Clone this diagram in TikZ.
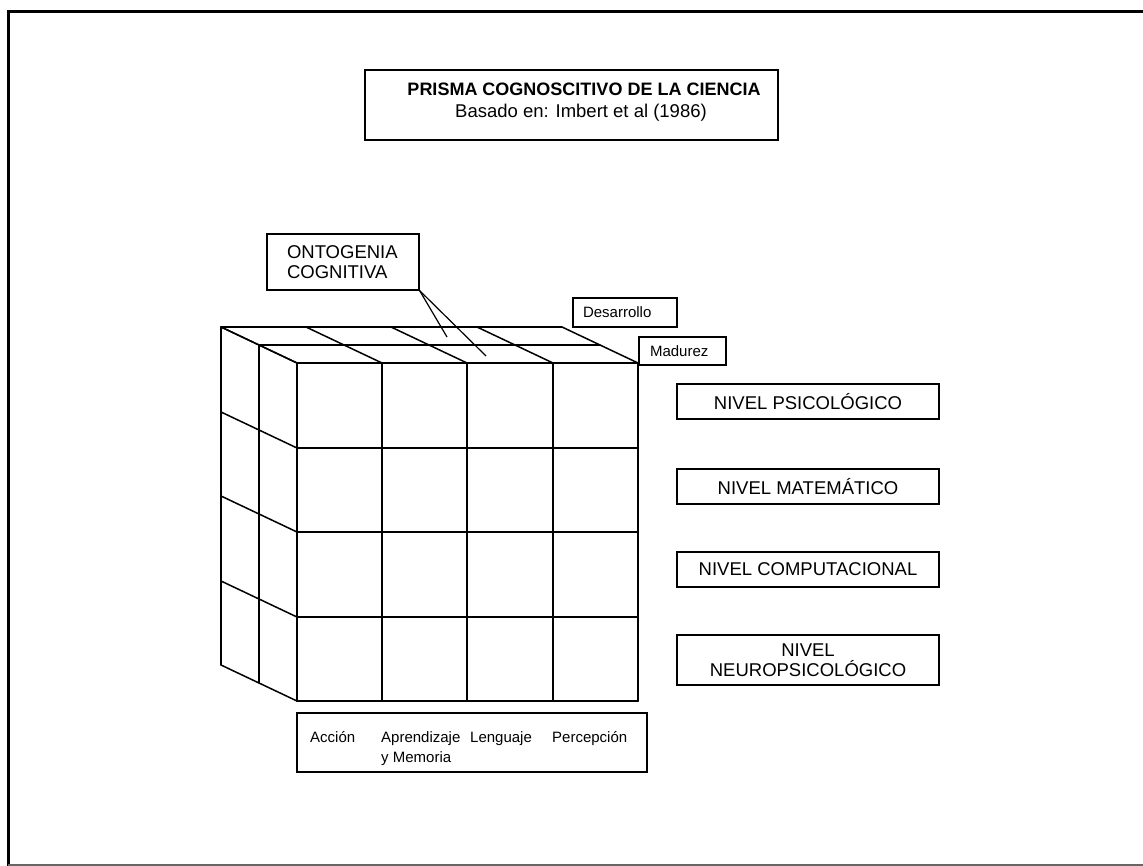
\documentclass[tikz,border=0pt]{standalone}
\usepackage{fontspec}
\setmainfont{Liberation Sans}
\newcommand{\bigtxt}{\fontsize{18.5}{20}\selectfont}
\newcommand{\smalltxt}{\fontsize{15}{20}\selectfont}
\begin{document}
\begin{tikzpicture}[x=1pt,y=-1pt,
  cubefront/.style={line width=2pt, line cap=round},
  cubeline/.style={line width=1.5pt, line cap=round},
  box/.style={draw, line width=1.2pt, inner sep=0pt},
  nivel/.style={box, minimum width=262pt, align=center, font=\bigtxt},
  smalllbl/.style={inner sep=0pt, font=\smalltxt},
  leader/.style={line width=1.2pt}]
\useasboundingbox (0,0) rectangle (1143,866);
% outer frame
\draw[line width=3pt] (8,866) -- (8,12) -- (1143,12);
\draw[line width=1.2pt, black!60] (8,865) -- (1143,865);

% title
\node[box, line width=2.4pt, minimum width=413pt, minimum height=70pt] (title) at (571.5,105) {};
\node[inner sep=0pt, anchor=base, font={\fontsize{18}{22}\selectfont\bfseries}]
  (titleA) at (584,96) {PRISMA COGNOSCITIVO DE LA CIENCIA};
\node[inner sep=0pt, anchor=base, font=\bigtxt]
  (titleB) at (581,118) {Basado en: Imbert et al (1986)};

% cube: front face
\foreach \x in {297,382,467,553,638}
  \draw[cubefront] (\x,363) -- (\x,701);
\foreach \y in {363,448,532,617,701}
  \draw[cubefront] (297,\y) -- (638,\y);
% top face
\foreach \k in {1,2}
  \draw[cubeline] (297-38*\k,363-18*\k) -- (638-38*\k,363-18*\k);
\foreach \x in {297,382,467,553,638}
  \draw[cubeline] (\x,363) -- (\x-76,327);
% left face
\foreach \k in {1,2}
  \draw[cubeline] (297-38*\k,363-18*\k) -- (297-38*\k,701-18*\k);
\foreach \y in {363,448,532,617,701}
  \draw[cubeline] (297,\y) -- (221,\y-36);

% ontogenia
\node[box, minimum width=152pt, minimum height=56pt, text width=112pt, align=left, font=\bigtxt]
  (ont) at (343,262) {ONTOGENIA\\COGNITIVA};
\coordinate (ontA) at (447,337);
\coordinate (ontB) at (486,356);
\draw[leader] (ont.south east) -- (ontA);
\draw[leader] (ont.south east) -- (ontB);

% desarrollo / madurez
\node[box, minimum width=104pt, minimum height=29pt, text width=84pt, align=left, font=\smalltxt]
  (des) at (625,312.5) {Desarrollo};
\node[box, minimum width=87pt, minimum height=28pt, text width=65pt, align=left, font=\smalltxt]
  (mad) at (682.5,351) {Madurez};

% niveles
\node[nivel, minimum height=35pt] (psi) at (808,401.5) {NIVEL PSICOLÓGICO};
\node[nivel, minimum height=35pt] (mat) at (808,486.5) {NIVEL MATEMÁTICO};
\node[nivel, minimum height=35pt] (com) at (808,569.5) {NIVEL COMPUTACIONAL};
\node[nivel, minimum height=50pt] (neu) at (808,660) {NIVEL\\NEUROPSICOLÓGICO};

% bottom labels
\node[box, minimum width=350pt, minimum height=59pt] (funcs) at (472,742.5) {};
\node[smalllbl, anchor=base west] (acc) at (310,742) {Acción};
\node[smalllbl, anchor=base west] (apr) at (381,742) {Aprendizaje};
\node[smalllbl, anchor=base west] (len) at (470,742) {Lenguaje};
\node[smalllbl, anchor=base west] (per) at (552,742) {Percepción};
\node[smalllbl, anchor=base west] (mem) at (381,762) {y Memoria};
\end{tikzpicture}
\end{document}
